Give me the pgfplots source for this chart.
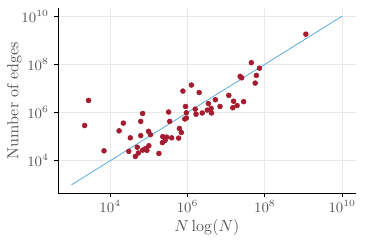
\documentclass[border=0pt]{standalone}
\usepackage{pgfplots}
\pgfplotsset{compat=1.18}
\definecolor{crim}{HTML}{A51C30}
\definecolor{lblue}{HTML}{5AAAE0}
\definecolor{txt}{HTML}{555555}
\begin{document}
\begin{tikzpicture}
\useasboundingbox (-36.25pt,-31.06pt) rectangle (191.9pt,120.8pt);
\begin{axis}[
  scale only axis,
  width=186.1pt, height=116.0pt,
  xmode=log, ymode=log,
  xmin=4.467e2, xmax=2.239e10,
  ymin=4.467e2, ymax=2.239e10,
  axis x line*=bottom, axis y line*=left,
  axis line style={black, line width=0.6pt},
  xtick={1e4,1e6,1e8,1e10},
  ytick={1e4,1e6,1e8,1e10},
  tick align=outside,
  major tick length=2.2pt,
  tick style={black, line width=0.5pt},
  xminorticks=false, yminorticks=false,
  grid=major,
  major grid style={gray!18, line width=0.5pt},
  ticklabel style={font=\small, text=txt},
  xticklabel style={yshift=1.2pt},
  label style={font=\normalsize, text=txt},
  xlabel={$N\log(N)$},
  ylabel={Number of edges},
  ylabel style={at={(axis description cs:0,0.5)}, anchor=south, yshift=22.5pt, inner sep=0pt},
  xlabel style={yshift=2.8pt},
  clip=false,
]
\addplot[color=lblue, line width=0.5pt] coordinates {(1e3,1e3) (1e10,1e10)};
\addplot[only marks, mark=*, mark size=1.5pt, color=crim, fill=crim] coordinates {
(2754,3.16e6) (2188,2.88e5) (6918,2.57e4) (1.70e4,1.74e5) (2.19e4,3.63e5)
(3.31e4,8.91e4) (3.02e4,2.45e4) (4.47e4,1.51e4) (5.01e4,3.63e4) (5.37e4,2.09e4)
(6.17e4,4.27e5) (6.92e4,9.12e5) (6.17e4,1.10e5) (6.92e4,2.75e4) (8.13e4,3.16e4)
(8.91e4,2.69e4) (1.00e5,4.17e4) (9.77e4,1.66e5) (1.10e5,1.20e5) (1.82e5,2.00e4)
(2.24e5,5.62e4) (2.29e5,1.00e5) (2.63e5,6.92e4) (2.88e5,9.55e4) (3.24e5,1.05e6)
(3.47e5,4.27e5) (3.89e5,8.91e4) (5.89e5,8.71e4) (6.17e5,2.19e5) (6.92e5,1.48e5)
(7.59e5,7.76e6) (8.51e5,5.37e5) (9.33e5,5.89e5) (8.91e5,1.78e6) (9.33e5,9.77e5)
(1.26e6,1.38e7) (1.58e6,1.38e6) (1.66e6,8.51e5) (2.00e6,6.76e6) (2.40e6,9.55e5)
(3.24e6,1.26e6) (3.47e6,2.34e6) (4.07e6,1.48e6) (4.17e6,9.55e5) (5.25e6,3.39e6)
(6.92e6,1.78e6) (1.17e7,5.13e6) (1.55e7,2.95e6) (1.48e7,1.58e6) (1.91e7,1.95e6)
(2.29e7,3.16e7) (2.51e7,2.75e7) (2.82e7,2.82e6) (4.47e7,1.17e8) (6.03e7,3.47e7)
(5.62e7,1.66e7) (7.24e7,6.92e7) (1.15e9,1.78e9)
};
\end{axis}
\end{tikzpicture}
\end{document}
